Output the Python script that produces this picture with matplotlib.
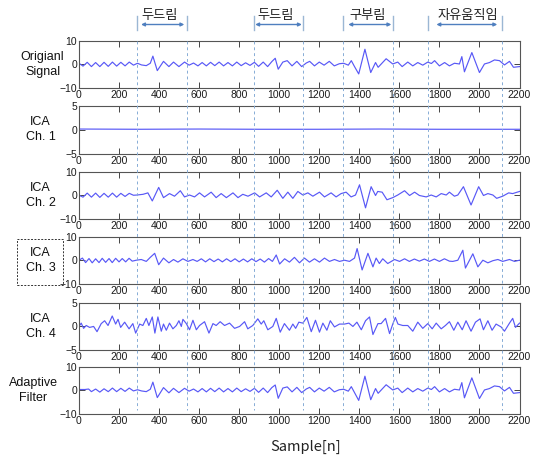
import matplotlib
matplotlib.use('Agg')
import matplotlib.pyplot as plt
from matplotlib.patches import Rectangle

# ---- data (sample index, amplitude at turning points) ----
orig_n = [0, 20, 41, 62, 83, 104, 125, 146, 167, 188, 209, 230, 251, 272, 292, 312, 336, 356, 369, 391,
          422, 449, 472, 499, 527, 550, 572, 594, 615, 636, 657, 678, 700, 722, 744, 766, 788, 810, 832, 854,
          876, 897, 920, 942, 963, 980, 995, 1018, 1040, 1064, 1088, 1112, 1135, 1152, 1176, 1200, 1224, 1250,
          1275, 1300, 1322, 1345, 1360, 1376, 1397, 1428, 1457, 1481, 1494, 1534, 1567, 1592, 1614, 1642, 1667,
          1692, 1717, 1742, 1760, 1776, 1800, 1826, 1850, 1875, 1900, 1912, 1925, 1962, 2000, 2025, 2050, 2075,
          2100, 2125, 2150, 2170, 2200]
orig_v = [0.5, -0.7, 0.9, -0.9, 0.8, -0.9, 0.9, -0.8, 1.0, -0.7, 0.9, -0.6, 1.0, -0.3, 0.5, -0.2, -0.5, 0.5, 3.5, -2.6,
          1.3, -0.9, 1.0, -0.9, 1.0, -0.3, 0.6, -0.6, 0.8, -0.6, 0.9, -0.5, 1.0, -0.6, 0.8, -0.6, 1.0, -0.5, 0.7, -0.4,
          0.9, -0.8, 1.0, -0.9, 1.2, 2.6, -2.0, 1.0, 1.6, -0.6, 1.3, -0.9, 0.6, 1.3, -0.6, 1.0, -0.3, 1.3,
          -0.6, 0.3, 0.5, -0.3, 1.6, -0.9, -4.0, 6.4, -3.4, 0.8, -1.2, 2.4, 0.2, 1.0, -0.9, 1.0, -0.6,
          0.8, -0.3, 1.0, 0.4, 1.6, -0.6, 0.8, -0.6, 0.5, 0.2, 3.3, -3.1, 5.0, -3.4, 0.2, 0.8, 1.9,
          1.6, -0.2, 1.3, -1.2, -0.9]

ica1_n = [0, 300, 600, 900, 1200, 1500, 1800, 2100, 2200]
ica1_v = [0.15, 0.1, 0.15, 0.1, 0.1, 0.15, 0.1, 0.1, 0.1]

ica2_n = [0, 20, 41, 62, 83, 104, 125, 146, 167, 188, 209, 230, 251, 272, 290, 320, 344, 366, 398, 422,
          452, 477, 506, 527, 552, 577, 602, 627, 660, 685, 710, 736, 769, 794, 818, 844, 877, 902, 935, 960,
          990, 1018, 1043, 1068, 1093, 1118, 1143, 1168, 1201, 1226, 1259, 1284, 1309, 1334, 1359, 1381, 1401,
          1431, 1459, 1481, 1492, 1514, 1538, 1567, 1592, 1626, 1651, 1676, 1700, 1734, 1759, 1784, 1809, 1834,
          1850, 1875, 1892, 1920, 1958, 1996, 2020, 2042, 2067, 2086, 2116, 2146, 2166, 2200]
ica2_v = [0.0, -0.8, 0.9, -0.8, 0.9, -0.9, 0.8, -0.8, 0.9, -0.8, 0.8, -0.5, 0.8, 0.0, 0.1, 0.4, 1.0, -2.4, 3.3, -1.0,
          0.7, -0.4, 1.9, -0.7, 0.1, -0.7, 1.0, -0.7, 1.3, -1.0, 0.7, -1.0, 1.0, -1.0, 0.4, -0.4, 1.0, -0.7, 1.0, -0.7,
          2.1, -1.3, 1.3, -1.3, 1.6, 0.1, 1.0, -0.4, 1.3, -0.7, 1.0, -0.7, 0.7, 1.3, -0.7, 0.1, 4.4,
          -5.3, 3.6, -0.1, 1.6, 1.3, -1.9, -1.0, 0.1, 1.9, -0.1, 1.3, -0.1, -0.7, 0.1, -0.7, 0.7, 0.1,
          1.3, -0.4, 0.1, 3.6, -4.1, 3.6, -0.1, 0.7, 0.1, -1.3, -0.4, 1.0, 0.7, 1.6]

ica3_n = [0, 17, 33, 50, 66, 83, 100, 116, 133, 150, 166, 183, 200, 216, 233, 250, 266, 286, 311, 336,
          356, 378, 398, 422, 449, 472, 494, 519, 544, 569, 590, 611, 632, 653, 674, 695, 716, 737, 758, 779,
          800, 821, 842, 863, 884, 905, 926, 947, 966, 985, 1002, 1027, 1051, 1076, 1101, 1126, 1151, 1176,
          1201, 1226, 1251, 1276, 1301, 1326, 1351, 1376, 1389, 1414, 1443, 1468, 1484, 1500, 1517, 1542, 1576,
          1601, 1626, 1650, 1675, 1700, 1725, 1750, 1775, 1800, 1825, 1850, 1867, 1892, 1917, 1930, 1967, 1992,
          2017, 2042, 2067, 2092, 2116, 2150, 2175, 2200]
ica3_v = [0.1, 1.0, -0.9, 0.8, -1.0, 0.7, -0.9, 0.9, -0.8, 0.8, -0.9, 0.9, -0.6, 0.8, -0.6, 0.9, -0.3, 0.1, 0.4, -0.4,
          1.3, 3.0, -1.8, 1.0, -1.0, 0.4, -0.7, 0.7, -0.4, 0.4, -0.4, 0.7, -0.6, 0.7, -0.5, 0.6, -0.6, 0.7, -0.5, 0.7,
          -0.6, 0.6, -0.6, 0.7, -0.5, 0.6, -0.7, 0.8, -0.4, 2.3, -1.5, 0.7, -0.7, 1.3, -1.0, 1.0, -0.7, 0.7,
          -0.7, 1.0, -0.4, 0.4, -0.4, 0.1, -0.4, 1.0, 5.0, -4.0, 3.0, -2.7, 1.0, -1.3, 0.7, -1.3, 0.4,
          -0.4, 0.7, -0.4, 0.6, -0.3, 0.6, -0.4, 0.6, -0.4, 0.7, -0.3, -0.4, 0.1, 4.3, -3.2, 2.8, -2.7,
          0.1, -1.0, -0.1, 0.4, -0.4, 0.4, -0.4, 0.1]

ica4_n = [0, 11, 23, 36, 53, 73, 90, 111, 128, 145, 166, 183, 195, 208, 228, 250, 269, 283, 303, 319,
          336, 349, 366, 379, 394, 411, 422, 436, 452, 469, 486, 499, 511, 519, 536, 552, 569, 586, 602, 627,
          649, 669, 685, 705, 727, 752, 777, 802, 827, 843, 868, 893, 910, 923, 943, 968, 985, 1005, 1026,
          1051, 1068, 1082, 1098, 1118, 1138, 1160, 1181, 1201, 1218, 1238, 1255, 1276, 1301, 1326, 1348, 1368,
          1388, 1410, 1431, 1451, 1468, 1493, 1509, 1531, 1551, 1567, 1580, 1593, 1617, 1642, 1667, 1692, 1717,
          1742, 1764, 1784, 1809, 1830, 1850, 1872, 1892, 1914, 1933, 1958, 1980, 2003, 2020, 2042, 2063, 2083,
          2108, 2125, 2150, 2166, 2180, 2200]
ica4_v = [0.0, 0.7, -0.4, 0.2, -0.2, 0.0, -1.1, 0.6, 1.2, 0.2, 2.2, 0.5, 1.5, -0.2, 0.9, -0.5, 0.6, -1.4, 0.5, 0.2,
          1.7, 0.2, 2.0, -1.4, 2.0, -1.0, 0.5, -0.8, 0.7, -0.5, 0.2, 1.2, 0.0, 1.5, 0.6, -0.7, 1.3, -0.7, 0.2, 1.0,
          -1.4, 0.6, 0.2, 1.0, 0.2, 0.7, -0.4, 0.0, 1.0, -0.5, 0.2, 1.6, 0.5, 1.2, -0.7, 0.0, 1.7, -1.2, 0.6,
          -0.8, 0.5, -0.4, 0.9, 0.7, 1.9, -1.1, 1.3, -1.2, 0.7, -0.8, 1.2, -0.1, 0.5, 0.5, 0.7, 0.0,
          0.9, -0.7, 1.2, 2.0, -1.7, 0.6, 0.6, 1.7, -1.5, 0.5, 1.9, 0.5, 0.2, 0.2, -1.0, 0.9, -0.4,
          0.6, -0.5, 0.7, -0.5, 0.2, 1.0, -0.8, 0.9, -0.7, 1.2, -1.0, 0.9, 1.6, -0.7, 1.2, -0.8, 0.5,
          -0.1, -1.0, 0.7, 1.7, -0.2, 0.7]

adap_n = [0, 30, 48, 62, 83, 104, 125, 146, 167, 188, 209, 230, 251, 272, 292, 312, 336, 356, 369, 391,
          422, 449, 472, 499, 527, 550, 572, 594, 615, 636, 657, 678, 700, 722, 744, 766, 788, 810, 832, 854,
          876, 897, 920, 942, 963, 980, 995, 1018, 1040, 1064, 1088, 1112, 1135, 1152, 1176, 1200, 1224, 1250,
          1275, 1300, 1322, 1345, 1360, 1376, 1397, 1428, 1457, 1481, 1494, 1534, 1567, 1592, 1614, 1642, 1667,
          1692, 1717, 1742, 1760, 1776, 1800, 1826, 1850, 1875, 1900, 1912, 1925, 1962, 2000, 2025, 2050, 2075,
          2100, 2125, 2150, 2170, 2200]
adap_v = [0.4, 0.4, 0.6, -0.5, 0.6, -0.7, 0.7, -0.5, 1.0, -0.5, 0.9, -0.4, 1.0, -0.2, 0.3, -0.2, -0.5, 0.5, 3.5, -3.0,
          1.2, -1.0, 0.9, -0.9, 0.9, -0.3, 0.6, -0.6, 0.8, -0.6, 0.9, -0.5, 1.0, -0.6, 0.8, -0.6, 1.0, -0.5, 0.7, -0.4,
          0.9, -0.8, 1.0, -0.9, 1.2, 2.3, -3.3, 1.0, 1.5, -0.6, 1.3, -0.9, 0.6, 1.3, -0.6, 1.0, -0.3, 1.3,
          -0.6, 0.3, 0.5, -0.3, 1.6, -0.9, -4.2, 6.0, -3.9, 0.8, -1.2, 2.4, 0.2, 1.0, -0.9, 1.0, -0.6,
          0.8, -0.3, 1.0, 0.4, 1.6, -0.6, 0.8, -0.6, 0.5, 0.2, 3.3, -3.1, 5.3, -3.4, 0.2, 0.8, 1.9,
          1.6, -0.2, 1.3, -1.2, -0.9]

labels = ['Origianl\nSignal', 'ICA\nCh. 1', 'ICA\nCh. 2', 'ICA\nCh. 3', 'ICA\nCh. 4', 'Adaptive\nFilter']
ylims = [10, 5, 10, 10, 5, 10]
series = [(orig_n, orig_v), (ica1_n, ica1_v), (ica2_n, ica2_v),
          (ica3_n, ica3_v), (ica4_n, ica4_v), (adap_n, adap_v)]

# event boundaries and the motion names above them
bounds = [288, 539, 872, 1121, 1318, 1568, 1743, 2112]
events = ['두드림', '두드림', '구부림', '자유움직임']
event_mid = [401, 981, 1442, 1941]
event_span = [(310, 526), (880, 1113), (1345, 1560), (1785, 2089)]

# ---- layout (pixel based, figure is 540 x 458) ----
W, H = 540, 458
left_px, right_px = 79, 519.5
tops = [40.7, 106, 171.5, 236.7, 302.7, 366.7]
ax_h = 47.5
label_cx = [42.5, 40.5, 40.5, 40.5, 40.5, 33]

narrow = ['Liberation Sans Narrow', 'Liberation Sans', 'DejaVu Sans']
kor = ['Noto Sans CJK KR', 'DejaVu Sans']

fig = plt.figure(figsize=(W / 100, H / 100), dpi=100)
line_col = '#5858f6'

for i, (n, v) in enumerate(series):
    ax = fig.add_axes([left_px / W, 1 - (tops[i] + ax_h) / H,
                       (right_px - left_px) / W, ax_h / H])
    ax.plot(n, v, color=line_col, lw=0.85, solid_joinstyle='round')
    ax.set_xlim(0, 2200)
    ax.set_ylim(-ylims[i], ylims[i])
    ax.set_xticks(range(0, 2201, 200))
    ax.set_yticks([-ylims[i], 0, ylims[i]])
    ax.tick_params(direction='in', length=4, width=0.7, color='#444444',
                   top=True, right=True, pad=1.5, labelsize=7.5)
    for t in ax.get_xticklabels() + ax.get_yticklabels():
        t.set_family(narrow)
        t.set_color('#1a1a1a')
    for s in ax.spines.values():
        s.set_color('#555555')
        s.set_linewidth(0.8)
    ax.set_ylabel(labels[i], rotation=0, ha='center', va='center',
                  fontsize=9, family=narrow, linespacing=1.3, color='#111111')
    ax.yaxis.set_label_coords((label_cx[i] - left_px) / (right_px - left_px), 0.5)

# dashed box round the ICA Ch. 3 label
fig.patches.append(Rectangle((16.7 / W, 1 - 285 / H), 46.3 / W, 46 / H,
                             transform=fig.transFigure, fill=False,
                             ls=(0, (2, 1.5)), lw=0.7, ec='#333333'))

# overlay in sample / pixel units for the event markers
ov = fig.add_axes([left_px / W, 0, (right_px - left_px) / W, 1])
ov.set_xlim(0, 2200)
ov.set_ylim(H, 0)
ov.axis('off')
ov.patch.set_alpha(0)

for b in bounds:
    ov.plot([b, b], [16, 30], color='#9bb7d4', lw=1.0)
    ov.plot([b, b], [41, 410], color='#86acd6', lw=0.7, ls=(0, (3, 3)))

for name, mid, (a, b) in zip(events, event_mid, event_span):
    ov.text(mid, 15, name, ha='center', va='center', fontsize=9.5, family=kor, color='#222222')
    ov.annotate('', xy=(a, 24.5), xytext=(b, 24.5),
                arrowprops=dict(arrowstyle='<|-|>', color='#4f7fbf', lw=1.0,
                                mutation_scale=5, shrinkA=0, shrinkB=0))

fig.text(306 / W, 1 - 447 / H, 'Sample[n]', ha='center', va='center',
         fontsize=10.5, family=kor, color='#222222')

fig.savefig('out.png', dpi=100)
